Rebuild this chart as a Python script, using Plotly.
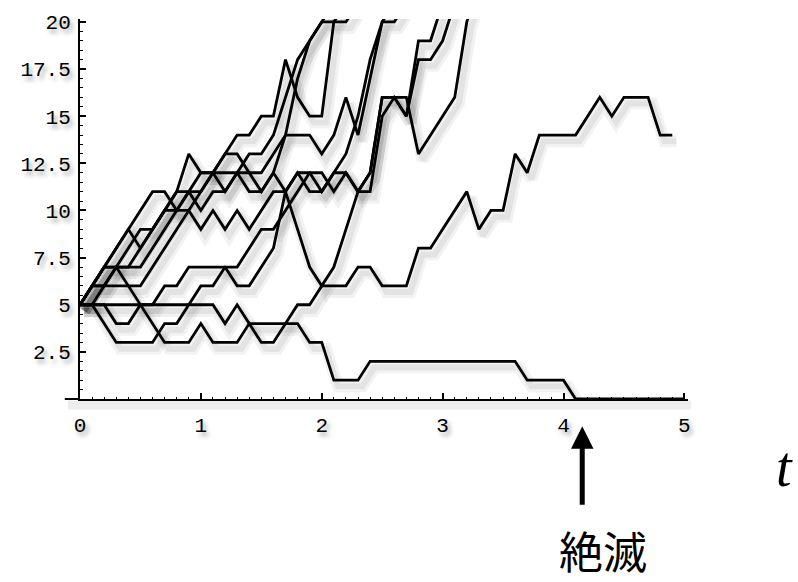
import plotly.graph_objects as go

# Sample paths of a birth-death process, population recorded every DT
DT = 0.1

path_extinct = [5] * 12 + [4, 5] + [4] * 5 + [3, 3] + [1] * 3 + [2] * 13 + [1] * 4 + [0] * 10
path_survivor = [5, 6, 7, 7, 6, 5, 4, 3, 3, 3,
                 4, 3, 3, 3, 4, 3, 3, 4, 5, 5,
                 6, 6, 6, 7, 7, 6, 6, 6, 8, 8,
                 9, 10, 11, 9, 10, 10, 13, 12, 14, 14,
                 14, 14, 15, 16, 15, 16, 16, 16, 14, 14]
path_d = [5, 5, 4, 3, 3, 3, 3, 4, 4, 5,
          6, 6, 7, 7, 8, 9, 9, 10, 11, 12,
          12, 11, 12, 11, 12, 16, 16, 15, 19, 19, 21]
path_e1 = [5, 6, 7, 8, 9, 10, 11, 11, 10, 11,
           12, 12, 13, 14, 14, 15, 15, 18, 16, 15,
           15, 20, 20, 21]
path_e2 = [5, 6, 7, 7, 7, 7, 8, 9, 10, 10,
           11, 12, 12, 12, 13, 13, 14, 16, 18, 19,
           20, 20, 21]
path_e3 = [5, 5, 6, 7, 7, 8, 9, 10, 10, 11,
           11, 12, 11, 12, 12, 11, 12, 14, 17, 19, 20, 21]
path_e4 = [5, 5, 5, 4, 4, 5, 5, 6, 6, 7,
           7, 7, 7, 6, 6, 7, 8, 11, 9, 7,
           6, 7, 9, 11, 12, 16, 16, 16, 13, 14,
           15, 16, 20, 22]
path_e6 = [5, 6, 6, 6, 6, 6, 7, 8, 9, 10,
           9, 10, 9, 10, 9, 10, 11, 11, 12, 11,
           11, 12, 12, 11, 11, 15, 16, 15, 18, 18, 19, 21]
path_e7 = [5, 6, 6, 7, 8, 9, 9, 10, 11, 13,
           12, 12, 13, 13, 12, 12, 13, 14, 14, 14,
           13, 14, 16, 14, 17, 20, 20, 21]
path_e8 = [5, 6, 7, 8, 9, 8, 9, 10, 11, 11,
           10, 11, 11, 12, 11, 11, 12, 11, 12, 12,
           11, 12, 13, 15, 18, 20, 21]

paths = [path_extinct, path_survivor, path_d, path_e1, path_e2, path_e3,
         path_e4, path_e6, path_e7, path_e8]

x_ticks = [0, 1, 2, 3, 4, 5]
y_ticks = [2.5, 5, 7.5, 10, 12.5, 15, 17.5, 20]
y_tick_text = ["2.5", "5", "7.5", "10", "12.5", "15", "17.5", "20"]

fig = go.Figure()

# soft drop shadow under each path
sdx, sdy = 0.035, -0.33
for p in paths:
    ts = [i * DT + sdx for i in range(len(p))]
    vs = [v + sdy for v in p]
    fig.add_trace(go.Scatter(x=ts, y=vs, mode="lines",
                             line=dict(color="rgba(0,0,0,0.05)", width=12),
                             hoverinfo="skip", showlegend=False))
    fig.add_trace(go.Scatter(x=ts, y=vs, mode="lines",
                             line=dict(color="rgba(0,0,0,0.06)", width=6),
                             hoverinfo="skip", showlegend=False))

for p in paths:
    ts = [i * DT for i in range(len(p))]
    fig.add_trace(go.Scatter(x=ts, y=p, mode="lines",
                             line=dict(color="black", width=2.8),
                             hoverinfo="skip", showlegend=False))

tick_font = dict(family="Liberation Mono", size=21, color="black",
                 shadow="3px 4px 4px rgba(0,0,0,0.35)")

fig.update_layout(
    width=798, height=582,
    margin=dict(l=80, r=110, t=12, b=183),
    paper_bgcolor="white", plot_bgcolor="white",
    hovermode=False,
    xaxis=dict(range=[0, 5.03], showgrid=False, zeroline=False,
               showline=True, linecolor="black", linewidth=2,
               ticks="inside", ticklen=6, tickwidth=1.5, tickcolor="black",
               tickvals=x_ticks, tickfont=tick_font, ticklabelstandoff=6,
               minor=dict(ticks="inside", dtick=0.1, ticklen=2,
                          tickcolor="black", tickwidth=1)),
    yaxis=dict(range=[0, 20.156], showgrid=False, zeroline=False,
               showline=True, linecolor="black", linewidth=2,
               ticks="inside", ticklen=6, tickwidth=1.5, tickcolor="black",
               tickvals=y_ticks, ticktext=y_tick_text, tickfont=tick_font,
               ticklabelstandoff=3,
               minor=dict(ticks="inside", dtick=0.5, ticklen=3,
                          tickcolor="black", tickwidth=1)),
    shapes=[
        # horizontal axis continues a little left of the origin
        dict(type="line", xref="paper", yref="paper", x0=-0.025, x1=0,
             y0=0, y1=0, line=dict(color="black", width=2)),
        # shadow under the horizontal axis
        dict(type="line", xref="paper", yref="paper", x0=-0.02, x1=1.005,
             y0=-0.016, y1=-0.016, line=dict(color="rgba(0,0,0,0.07)", width=9)),
    ],
    annotations=[
        dict(x=4.155, y=-0.072, xref="x", yref="paper", text="",
             showarrow=True, arrowhead=2, arrowsize=0.9, arrowwidth=5,
             arrowcolor="black", ax=0, ay=80, axref="pixel", ayref="pixel"),
        dict(x=(603 - 80) / 608, y=-0.398, xref="paper", yref="paper", text="絶滅",
             showarrow=False, xanchor="center", yanchor="middle",
             font=dict(family="Noto Sans CJK JP", size=44, color="black")),
        dict(x=(784 - 80) / 608, y=-0.18, xref="paper", yref="paper", text="<i>t</i>",
             showarrow=False, xanchor="center", yanchor="middle",
             font=dict(family="Liberation Serif", size=56, color="black")),
    ],
)

fig.write_html("out.html")
